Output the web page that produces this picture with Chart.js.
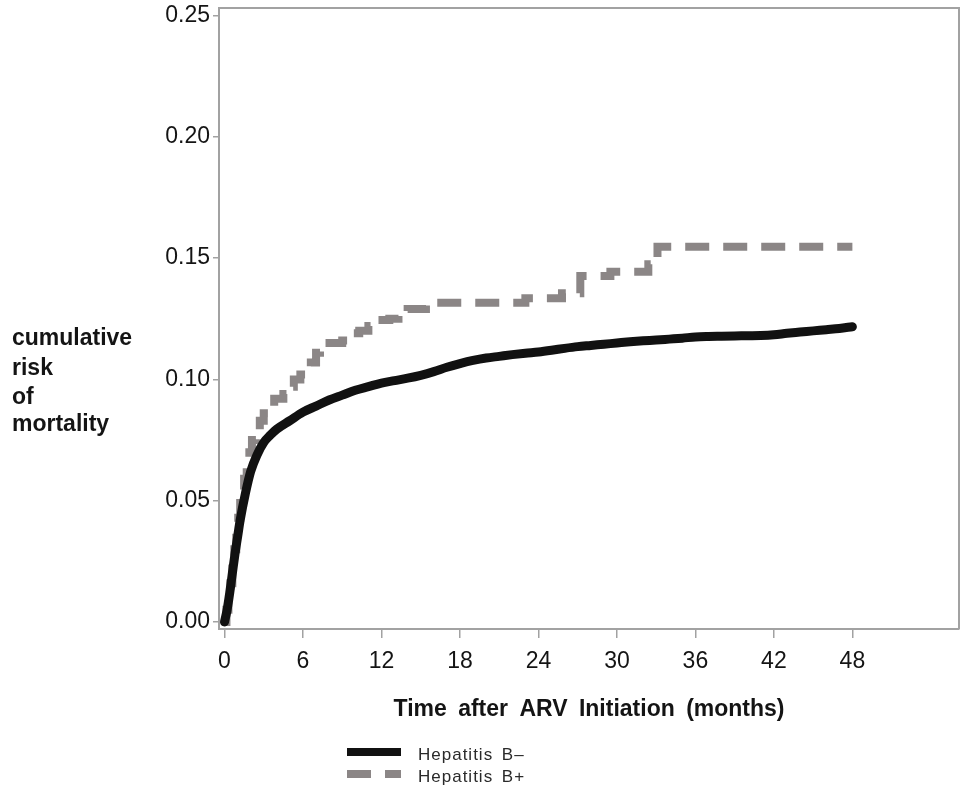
<!DOCTYPE html>
<html>
<head>
<meta charset="utf-8">
<script src="https://cdn.jsdelivr.net/npm/chart.js@4/dist/chart.umd.min.js"></script>
<style>
  html, body { margin: 0; padding: 0; background: #ffffff; }
  #wrap { width: 966px; height: 793px; position: relative; }
</style>
</head>
<body>
<div id="wrap"><canvas id="chart" width="966" height="793"></canvas></div>
<script>
// Cumulative risk of mortality after ARV initiation, by hepatitis B status

const seriesLabels = ['Hepatitis B\u2013', 'Hepatitis B+'];

// Hepatitis B– (months, cumulative risk)
const monthsNeg = [0, 0.2, 0.4, 0.6, 0.8, 1.0, 1.2, 1.6, 2.0, 2.5, 3.0, 3.5, 4.0, 5.0, 6.0, 7.0, 8.0, 9.0,
  10.0, 11.0, 12.0, 13.0, 14.0, 15.0, 16.0, 17.0, 18.0, 19.0, 20.0, 21.0, 22.0, 23.0, 24.0, 25.0, 26.0,
  27.0, 28.0, 29.0, 30.0, 31.0, 32.0, 33.0, 34.0, 35.0, 36.0, 37.0, 38.0, 39.0, 40.0, 41.0, 42.0, 43.0,
  44.0, 45.0, 46.0, 47.0, 48.0];
const riskNeg = [0, 0.005, 0.012, 0.020, 0.028, 0.035, 0.042, 0.053, 0.062, 0.069, 0.074, 0.077, 0.0795,
  0.083, 0.0865, 0.089, 0.0915, 0.0935, 0.0955, 0.097, 0.0985, 0.0995, 0.1005, 0.1017, 0.1032, 0.105,
  0.1065, 0.1078, 0.1088, 0.1095, 0.1102, 0.1108, 0.1113, 0.112, 0.1128, 0.1135, 0.114, 0.1145, 0.115,
  0.1155, 0.1159, 0.1162, 0.1166, 0.117, 0.1175, 0.1177, 0.1178, 0.1179, 0.118, 0.1181, 0.1184, 0.119,
  0.1195, 0.120, 0.1205, 0.121, 0.1217];

// Hepatitis B+ (event times in months, cumulative risk after each step)
const monthsPos = [0, 0.15, 0.3, 0.45, 0.6, 0.75, 0.9, 1.05, 1.2, 1.35, 1.5, 1.7, 1.9, 2.1, 2.4, 2.7, 3.0,
  3.4, 3.8, 4.5, 4.9, 5.3, 5.8, 6.2, 6.6, 7.0, 7.3, 9.0, 9.4, 10.3, 11.0, 11.6, 12.6, 13.3, 14.0, 15.4,
  23.0, 25.8, 27.2, 29.5, 32.4, 32.8, 33.1, 48.0];
const riskPos = [0, 0.005, 0.010, 0.016, 0.022, 0.030, 0.037, 0.043, 0.049, 0.054, 0.059, 0.065, 0.070,
  0.075, 0.079, 0.083, 0.086, 0.089, 0.092, 0.094, 0.097, 0.100, 0.102, 0.105, 0.107, 0.111, 0.115,
  0.116, 0.119, 0.120, 0.122, 0.1245, 0.125, 0.127, 0.129, 0.1316, 0.1334, 0.1355, 0.1426, 0.1444,
  0.1475, 0.150, 0.1547, 0.1547];

const xTickValues = [0, 6, 12, 18, 24, 30, 36, 42, 48];
const yTickValues = [0.00, 0.05, 0.10, 0.15, 0.20, 0.25];

const xTitle = 'Time after ARV Initiation (months)';
const yTitleLines = ['cumulative', 'risk', 'of', 'mortality'];

const toPoints = (xs, ys) => xs.map((x, i) => ({ x: x, y: ys[i] }));

const FONT = "'Liberation Sans', Arial, Helvetica, sans-serif";
const AXIS_GREY = '#a2a2a2';
const TEXT = '#141414';

// Keep the plot box at the layout padding instead of growing it for edge labels
const noLabelPadding = (s) => {
  s.paddingTop = 0; s.paddingBottom = 0; s.paddingLeft = 0; s.paddingRight = 0;
};

// Wider word gaps for the axis title, reset before the data layer
const titleSpacing = {
  id: 'titleSpacing',
  beforeDraw(chart) {
    if ('wordSpacing' in chart.ctx) chart.ctx.wordSpacing = '5px';
  },
  beforeDatasetsDraw(chart) {
    if ('wordSpacing' in chart.ctx) chart.ctx.wordSpacing = '0px';
  }
};

// Box frame on the top and right sides of the plot area
const frame = {
  id: 'frame',
  beforeDatasetsDraw(chart) {
    const { ctx, chartArea: a } = chart;
    ctx.save();
    ctx.strokeStyle = AXIS_GREY;
    ctx.lineWidth = 2;
    ctx.beginPath();
    ctx.moveTo(a.left, a.top);
    ctx.lineTo(a.right, a.top);
    ctx.lineTo(a.right, a.bottom);
    ctx.stroke();
    ctx.restore();
  }
};

// Horizontal, stacked y-axis title on the left
const sideTitle = {
  id: 'sideTitle',
  afterDraw(chart) {
    const { ctx } = chart;
    const baselines = [345, 375, 404, 431];
    ctx.save();
    ctx.fillStyle = TEXT;
    ctx.font = 'bold 23px ' + FONT;
    ctx.textAlign = 'left';
    ctx.textBaseline = 'alphabetic';
    yTitleLines.forEach((t, i) => ctx.fillText(t, 12, baselines[i]));
    ctx.restore();
  }
};

// Two-row legend under the x-axis title, styled from the datasets
const rowLegend = {
  id: 'rowLegend',
  afterDraw(chart) {
    const { ctx } = chart;
    const x0 = 347, x1 = 401, textX = 418;
    const rows = [752, 774];
    ctx.save();
    chart.data.datasets.forEach((ds, i) => {
      const y = rows[i];
      ctx.strokeStyle = ds.borderColor;
      ctx.lineWidth = 8;
      ctx.lineCap = 'butt';
      ctx.setLineDash(ds.borderDash || []);
      ctx.beginPath();
      ctx.moveTo(x0, y);
      ctx.lineTo(x1, y);
      ctx.stroke();
      ctx.setLineDash([]);
      ctx.fillStyle = '#2a2a2a';
      ctx.font = '17px ' + FONT;
      if ('letterSpacing' in ctx) ctx.letterSpacing = '1px';
      if ('wordSpacing' in ctx) ctx.wordSpacing = '3px';
      ctx.textAlign = 'left';
      ctx.textBaseline = 'middle';
      ctx.fillText(ds.label, textX, y + 3);
      if ('letterSpacing' in ctx) ctx.letterSpacing = '0px';
      if ('wordSpacing' in ctx) ctx.wordSpacing = '0px';
    });
    ctx.restore();
  }
};

new Chart(document.getElementById('chart'), {
  type: 'line',
  data: {
    datasets: [
      {
        label: seriesLabels[0],
        data: toPoints(monthsNeg, riskNeg),
        borderColor: '#111111',
        backgroundColor: '#111111',
        borderWidth: 9,
        borderCapStyle: 'round',
        borderJoinStyle: 'round',
        cubicInterpolationMode: 'monotone',
        pointRadius: 0,
        clip: 8
      },
      {
        label: seriesLabels[1],
        data: toPoints(monthsPos, riskPos),
        borderColor: '#8b8686',
        backgroundColor: '#8b8686',
        borderWidth: 8,
        borderDash: [24, 14],
        borderCapStyle: 'butt',
        borderJoinStyle: 'miter',
        stepped: 'before',
        pointRadius: 0,
        clip: 8
      }
    ]
  },
  options: {
    responsive: false,
    animation: false,
    events: [],
    layout: { autoPadding: false, padding: { left: 0, right: 7, top: 8, bottom: 0 } },
    plugins: {
      legend: { display: false },
      tooltip: { enabled: false }
    },
    scales: {
      x: {
        type: 'linear',
        min: -0.42,
        max: 56.15,
        afterBuildTicks: (s) => { s.ticks = xTickValues.map(v => ({ value: v })); },
        afterFit: (s) => { s.height = 164; noLabelPadding(s); },
        ticks: {
          color: TEXT,
          font: { family: FONT, size: 23 },
          padding: 10,
          maxRotation: 0,
          autoSkip: false,
          callback: (v) => String(v)
        },
        grid: {
          drawOnChartArea: false,
          drawTicks: true,
          tickLength: 9,
          color: AXIS_GREY,
          lineWidth: 1.5
        },
        border: { display: true, color: AXIS_GREY, width: 2 },
        title: {
          display: true,
          text: xTitle,
          color: TEXT,
          font: { family: FONT, size: 23, weight: 'bold', lineHeight: 1.2 },
          padding: { top: 0, bottom: 70 }
        }
      },
      y: {
        type: 'linear',
        min: -0.0029,
        max: 0.2531,
        afterBuildTicks: (s) => { s.ticks = yTickValues.map(v => ({ value: v })); },
        afterFit: (s) => { s.width = 219; noLabelPadding(s); },
        ticks: {
          color: TEXT,
          font: { family: FONT, size: 23 },
          padding: 3,
          autoSkip: false,
          callback: (v) => Number(v).toFixed(2)
        },
        grid: {
          drawOnChartArea: false,
          drawTicks: true,
          tickLength: 6,
          color: AXIS_GREY,
          lineWidth: 1.5
        },
        border: { display: true, color: AXIS_GREY, width: 2 }
      }
    }
  },
  plugins: [titleSpacing, frame, sideTitle, rowLegend]
});
</script>
</body>
</html>
